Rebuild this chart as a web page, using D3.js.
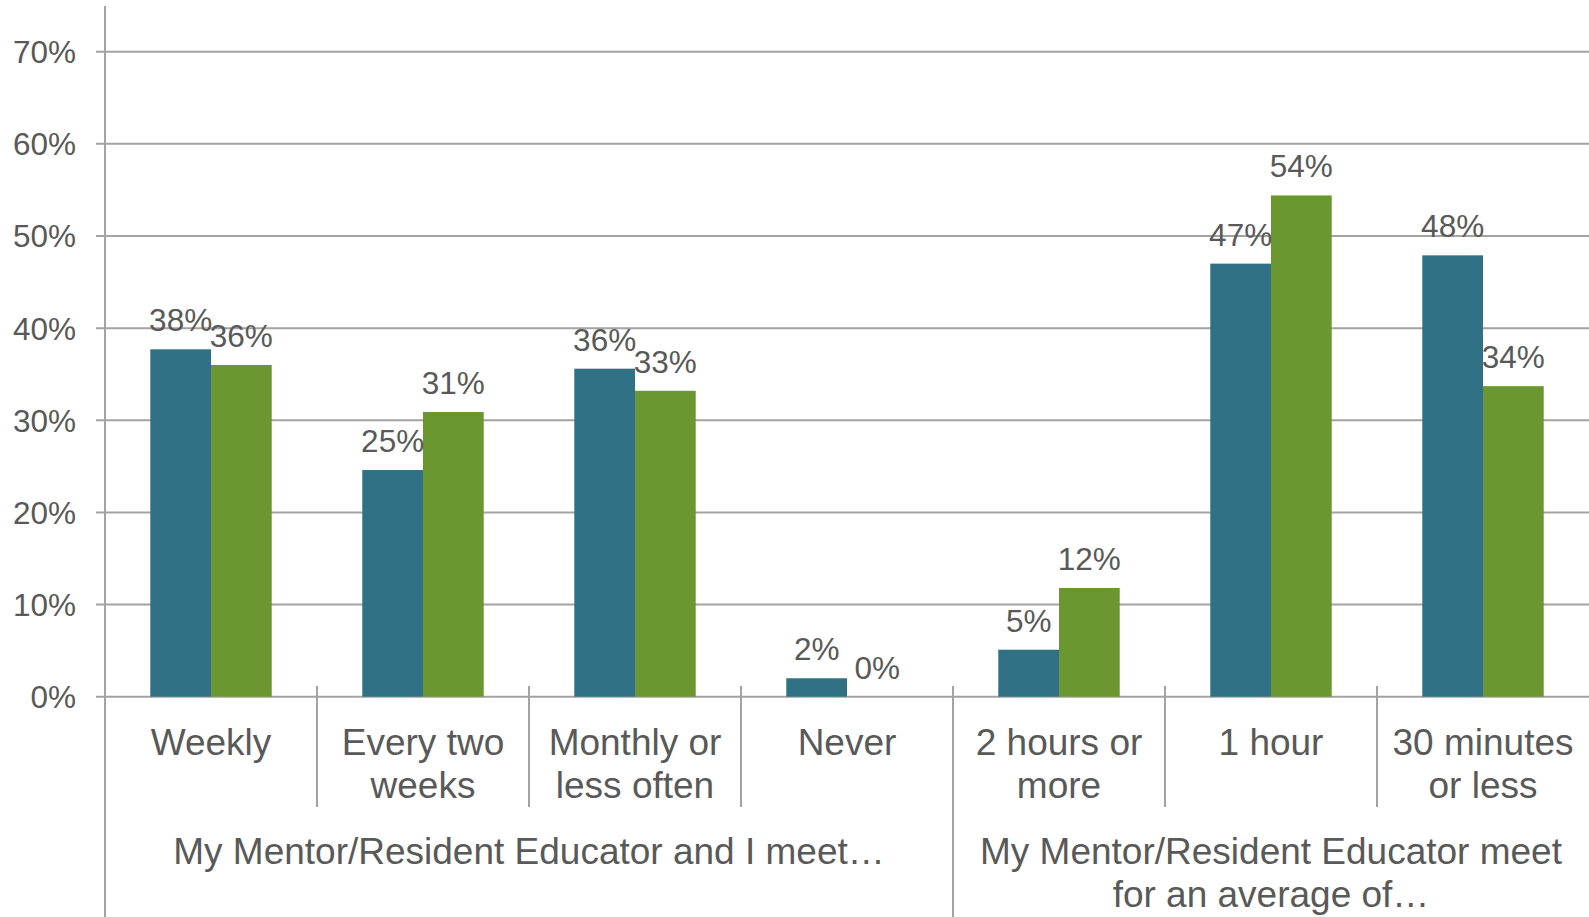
<!DOCTYPE html>
<html>
<head>
<meta charset="utf-8">
<script src="https://cdn.jsdelivr.net/npm/d3@7"></script>
<style>
  html, body { margin: 0; padding: 0; background: #fff; }
  svg text { font-family: "Liberation Sans", Arial, sans-serif; fill: #595959; }
</style>
</head>
<body>
<svg id="chart" width="1589" height="917"></svg>
<script>
// data
var categories = ["Weekly", "Every two weeks", "Monthly or less often", "Never",
                  "2 hours or more", "1 hour", "30 minutes or less"];
var categoryLines = [["Weekly"], ["Every two", "weeks"], ["Monthly or", "less often"], ["Never"],
                     ["2 hours or", "more"], ["1 hour"], ["30 minutes", "or less"]];
var seriesNames = ["Series 1", "Series 2"];
var series1 = [0.377, 0.246, 0.356, 0.020, 0.051, 0.470, 0.479];
var series2 = [0.360, 0.309, 0.332, 0.000, 0.118, 0.544, 0.337];
var groups = [
    { first: 0, last: 3, lines: ["My Mentor/Resident Educator and I meet…"] },
    { first: 4, last: 6, lines: ["My Mentor/Resident Educator meet", "for an average of…"] }
];
var yTicks = [0, 0.1, 0.2, 0.3, 0.4, 0.5, 0.6, 0.7];

var colors = ["#317186", "#6A972F"];
var gridColor = "#A3A3A3";

var svg = d3.select("svg#chart"),
    width = +svg.attr("width"),
    height = +svg.attr("height");

var plotLeft = 105, baseline = 696.7, plotTop = 51.7;

var x0 = d3.scaleBand()
    .domain(categories)
    .range([plotLeft, width])
    .paddingInner(0)
    .paddingOuter(0);

var x1 = d3.scaleBand()
    .domain(seriesNames)
    .range([0, x0.bandwidth()])
    .paddingInner(0)
    .paddingOuter(0.746);

var y = d3.scaleLinear()
    .domain([0, 0.7])
    .range([baseline, plotTop]);

var pct = d3.format(".0%");

// shadow for the thick divider
var defs = svg.append("defs");
defs.append("filter")
    .attr("id", "shadow")
    .attr("x", "-200%").attr("y", "-10%")
    .attr("width", "500%").attr("height", "120%")
    .append("feDropShadow")
        .attr("dx", 1).attr("dy", 2)
        .attr("stdDeviation", 2)
        .attr("flood-color", "#000")
        .attr("flood-opacity", 0.25);

// gridlines + tick marks
svg.append("g")
    .selectAll("line")
    .data(yTicks)
    .enter().append("line")
        .attr("x1", plotLeft - 9)
        .attr("x2", width)
        .attr("y1", function(d) { return y(d); })
        .attr("y2", function(d) { return y(d); })
        .attr("stroke", gridColor)
        .attr("stroke-width", 2);

// y tick labels
svg.append("g")
    .selectAll("text")
    .data(yTicks)
    .enter().append("text")
        .attr("x", 76)
        .attr("y", function(d) { return y(d) + 11.5; })
        .attr("text-anchor", "end")
        .attr("font-size", "31.5px")
        .text(function(d) { return pct(d); });

// y axis line
svg.append("line")
    .attr("x1", plotLeft).attr("x2", plotLeft)
    .attr("y1", 6).attr("y2", height)
    .attr("stroke", gridColor)
    .attr("stroke-width", 2);

// bars
var rows = categories.map(function(c, i) {
    return { cat: c, values: [
        { name: seriesNames[0], value: series1[i] },
        { name: seriesNames[1], value: series2[i] }
    ] };
});

var catG = svg.append("g")
    .selectAll("g")
    .data(rows)
    .enter().append("g")
        .attr("transform", function(d) { return "translate(" + x0(d.cat) + ",0)"; });

catG.selectAll("rect")
    .data(function(d) { return d.values; })
    .enter().append("rect")
        .attr("x", function(d) { return x1(d.name); })
        .attr("width", x1.bandwidth())
        .attr("y", function(d) { return y(d.value); })
        .attr("height", function(d) { return baseline - y(d.value); })
        .attr("fill", function(d, i) { return colors[i]; });

// value labels
catG.selectAll("text")
    .data(function(d) { return d.values; })
    .enter().append("text")
        .attr("x", function(d) { return x1(d.name) + x1.bandwidth() / 2; })
        .attr("y", function(d) { return y(d.value) - 18; })
        .attr("text-anchor", "middle")
        .attr("font-size", "31.5px")
        .text(function(d) { return pct(d.value); });

// category separators
var groupStarts = groups.map(function(g) { return g.first; });
svg.append("g")
    .selectAll("line")
    .data(categories.slice(1))
    .enter().append("line")
        .attr("x1", function(d) { return x0(d); })
        .attr("x2", function(d) { return x0(d); })
        .attr("y1", 686)
        .attr("y2", function(d) {
            return groupStarts.indexOf(categories.indexOf(d)) >= 0 ? height : 807;
        })
        .attr("stroke", gridColor)
        .attr("stroke-width", 2);

// category labels
svg.append("g")
    .selectAll("text")
    .data(categories)
    .enter().append("text")
        .attr("x", function(d) { return x0(d) + x0.bandwidth() / 2; })
        .attr("y", 755)
        .attr("text-anchor", "middle")
        .attr("font-size", "37px")
        .each(function(d, i) {
            var t = d3.select(this);
            categoryLines[i].forEach(function(line, k) {
                t.append("tspan")
                    .attr("x", x0(d) + x0.bandwidth() / 2)
                    .attr("dy", k === 0 ? 0 : 43)
                    .text(line);
            });
        });

// group labels
svg.append("g")
    .selectAll("text")
    .data(groups)
    .enter().append("text")
        .attr("y", 864)
        .attr("text-anchor", "middle")
        .attr("font-size", "37px")
        .each(function(g) {
            var t = d3.select(this);
            var cx = (x0(categories[g.first]) + x0(categories[g.last]) + x0.bandwidth()) / 2;
            g.lines.forEach(function(line, k) {
                t.append("tspan")
                    .attr("x", cx)
                    .attr("dy", k === 0 ? 0 : 43)
                    .text(line);
            });
        });

// thick divider between the two question groups
var divX = x0(categories[groups[1].first]) + 2;
svg.append("line")
    .attr("x1", divX).attr("x2", divX)
    .attr("y1", 68).attr("y2", 645)
    .attr("stroke", "#595959")
    .attr("stroke-width", 5)
    .attr("filter", "url(#shadow)");
</script>
</body>
</html>
